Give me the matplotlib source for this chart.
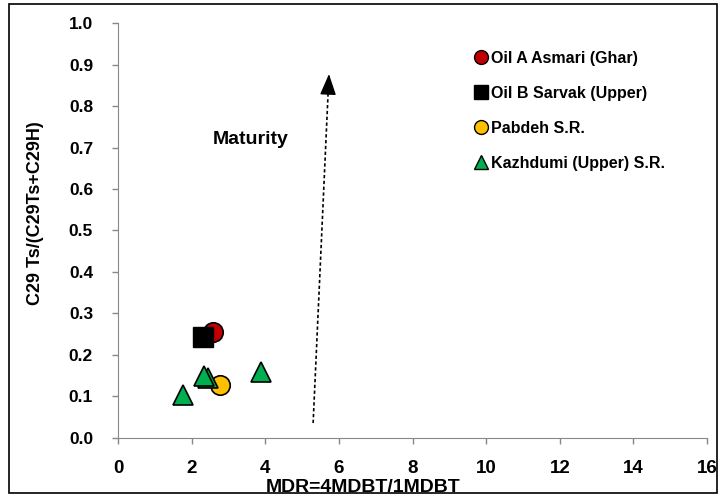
import matplotlib.pyplot as plt
from matplotlib.lines import Line2D
from matplotlib.patches import Rectangle

plt.rcParams['font.family'] = ['Liberation Sans', 'DejaVu Sans']
plt.rcParams['font.weight'] = 'bold'

# MDR vs C29 Ts/(Ts+H) for oils and source rocks
oil_a_mdr = [2.58]
oil_a_ts = [0.255]
oil_b_mdr = [2.31]
oil_b_ts = [0.243]
pabdeh_mdr = [2.77]
pabdeh_ts = [0.128]
kazhdumi_mdr = [1.77, 2.45, 2.33, 3.88]
kazhdumi_ts = [0.104, 0.145, 0.150, 0.160]

# maturity trend arrow (start, tip)
trend_mdr = [5.3, 5.73]
trend_ts = [0.036, 0.877]

x_ticks = [0, 2, 4, 6, 8, 10, 12, 14, 16]
y_ticks = [0.0, 0.1, 0.2, 0.3, 0.4, 0.5, 0.6, 0.7, 0.8, 0.9, 1.0]

fig = plt.figure(figsize=(7.21, 4.95), dpi=100)
ax = fig.add_axes([0.1637, 0.1152, 0.8169, 0.8383])

ax.plot(oil_a_mdr, oil_a_ts, 'o', ms=14, mfc='#c00000', mec='black', mew=1.2, zorder=3)
ax.plot(oil_b_mdr, oil_b_ts, 's', ms=14, mfc='black', mec='black', zorder=4)
ax.plot(pabdeh_mdr, pabdeh_ts, 'o', ms=14, mfc='#ffc000', mec='black', mew=1.2, zorder=3)
ax.plot(kazhdumi_mdr, kazhdumi_ts, '^', ms=15, mfc='#00b050', mec='black', mew=1.2, zorder=5,
        ls='none')

# dashed shaft, solid head
ax.plot(trend_mdr, trend_ts, color='black', lw=1.2, ls=(0, (2, 1.5)))
f = 0.97
ax.annotate('', xy=(trend_mdr[1], trend_ts[1]),
            xytext=(trend_mdr[0] + f * (trend_mdr[1] - trend_mdr[0]),
                    trend_ts[0] + f * (trend_ts[1] - trend_ts[0])),
            arrowprops=dict(arrowstyle='-|>,head_length=0.65,head_width=0.25',
                            lw=1.0, color='black', mutation_scale=20,
                            shrinkA=0, shrinkB=0))
ax.text(3.6, 0.72, 'Maturity', ha='center', va='center', fontsize=14, fontweight='bold')

ax.set_xlim(0, 16)
ax.set_ylim(0, 1.0)
ax.set_xticks(x_ticks)
ax.set_yticks(y_ticks)
ax.set_yticklabels([f'{v:.1f}' for v in y_ticks])
ax.tick_params(direction='out', length=4, color='#888888', width=1)
ax.tick_params(axis='y', pad=14, labelsize=12.5)
ax.tick_params(axis='x', pad=12, labelsize=13.5)
for lbl in ax.get_xticklabels() + ax.get_yticklabels():
    lbl.set_fontweight('bold')
for s in ['top', 'right']:
    ax.spines[s].set_visible(False)
for s in ['left', 'bottom']:
    ax.spines[s].set_color('#888888')
ax.set_xlabel('MDR=4MDBT/1MDBT', fontsize=14, fontweight='bold')
ax.xaxis.set_label_coords(0.416, -0.12)
ax.xaxis.label.set_va('center')
ax.set_ylabel('C29 Ts/(C29Ts+C29H)', fontsize=13, fontweight='bold')
ax.yaxis.set_label_coords(-(118 - 35) / 589, 0.543)
ax.yaxis.label.set_va('center')

handles = [
    Line2D([], [], marker='o', ls='none', ms=10, mfc='#c00000', mec='black'),
    Line2D([], [], marker='s', ls='none', ms=10, mfc='black', mec='black'),
    Line2D([], [], marker='o', ls='none', ms=10, mfc='#ffc000', mec='black'),
    Line2D([], [], marker='^', ls='none', ms=10, mfc='#00b050', mec='black'),
]
labels = ['Oil A Asmari (Ghar)', 'Oil B Sarvak (Upper)', 'Pabdeh S.R.',
          'Kazhdumi (Upper) S.R.']
ax.legend(handles, labels, loc='upper left', bbox_to_anchor=(0.575, 0.968), frameon=False,
          prop={'size': 11.5, 'weight': 'bold'}, handletextpad=0.05, labelspacing=1.25,
          handlelength=1.2)

fig.patches.append(Rectangle((0.013, 0.004), 0.982, 0.988, transform=fig.transFigure,
                             fill=False, ec='black', lw=1.2))

fig.savefig('out.png', dpi=100)
